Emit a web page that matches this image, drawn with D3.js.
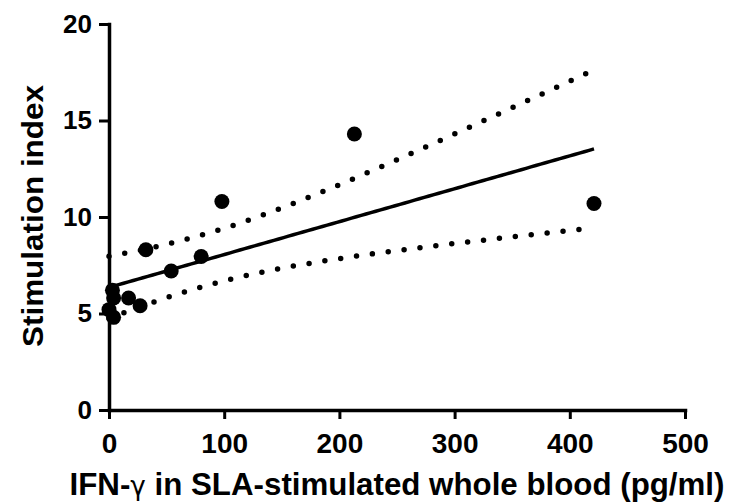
<!DOCTYPE html>
<html>
<head>
<meta charset="utf-8">
<script src="https://cdn.jsdelivr.net/npm/d3@7"></script>
<style>
  body { margin: 0; background: #fff; }
  text { font-family: "Liberation Sans", Arial, sans-serif; font-weight: bold; fill: #000; }
</style>
</head>
<body>
<div id="viz"></div>
<script>
// IFN-gamma (pg/ml) vs stimulation index
const ifn = [213, 98, 421, 32, 80, 54, 17, 27, 3, 4, 0, 4];
const si = [14.3, 10.8, 10.7, 8.3, 7.95, 7.2, 5.8, 5.4, 6.2, 5.8, 5.2, 4.8];
const xTicks = [0, 100, 200, 300, 400, 500];
const yTicks = [0, 5, 10, 15, 20];

const width = 729, height = 504;
const margin = {top: 24, right: 44, bottom: 94, left: 109};

const svg = d3.select("#viz")
  .append("svg")
  .attr("width", width)
  .attr("height", height);

const x = d3.scaleLinear().domain([0, 500]).range([margin.left, width - margin.right]);
const y = d3.scaleLinear().domain([0, 20]).range([height - margin.bottom, margin.top]);

// linear regression + 95% confidence band
const n = ifn.length;
const mx = d3.mean(ifn), my = d3.mean(si);
let sxx = 0, sxy = 0;
ifn.forEach((v, i) => { sxx += (v - mx) ** 2; sxy += (v - mx) * (si[i] - my); });
const slope = sxy / sxx, icpt = my - slope * mx;
const ssr = d3.sum(ifn, (v, i) => (si[i] - (icpt + slope * v)) ** 2);
const s = Math.sqrt(ssr / (n - 2));
const t = 2.228; // t(0.975, df=10)

const xs = d3.range(0, 101).map(i => d3.max(ifn) * i / 100);
const fit = xs.map(v => [v, icpt + slope * v]);
const band = sign => xs.map(v => {
  const se = s * Math.sqrt(1 / n + (v - mx) ** 2 / sxx);
  return [v, icpt + slope * v + sign * t * se];
});

const line = d3.line().x(d => x(d[0])).y(d => y(d[1]));

svg.append("path")
  .attr("d", line(fit))
  .attr("fill", "none")
  .attr("stroke", "#000")
  .attr("stroke-width", 3.5);

[1, -1].forEach(sg => {
  svg.append("path")
    .attr("d", line(band(sg)))
    .attr("fill", "none")
    .attr("stroke", "#000")
    .attr("stroke-width", 5.5)
    .attr("stroke-linecap", "round")
    .attr("stroke-dasharray", "0 16");
});

svg.append("g")
  .selectAll("circle")
  .data(ifn)
  .join("circle")
  .attr("cx", d => x(d))
  .attr("cy", (d, i) => y(si[i]))
  .attr("r", 7.5)
  .attr("fill", "#000");

// axes
const xAxis = svg.append("g")
  .attr("transform", `translate(0,${y(0)})`)
  .call(d3.axisBottom(x).tickValues(xTicks).tickSize(9).tickPadding(14).tickSizeOuter(0));
const yAxis = svg.append("g")
  .attr("transform", `translate(${x(0)},0)`)
  .call(d3.axisLeft(y).tickValues(yTicks).tickSize(10).tickPadding(7).tickSizeOuter(0));

[xAxis, yAxis].forEach(g => {
  g.attr("font-size", null).attr("font-family", null);
  g.select(".domain").attr("stroke-width", 3.5).attr("stroke-linecap", "square");
  g.selectAll(".tick line").attr("stroke-width", 3);
});
xAxis.selectAll(".tick text").style("font-size", "28px");
yAxis.selectAll(".tick text").style("font-size", "26px");

svg.append("text")
  .attr("x", 397)
  .attr("y", 495)
  .attr("text-anchor", "middle")
  .attr("textLength", 655)
  .attr("lengthAdjust", "spacingAndGlyphs")
  .style("font-size", "31px")
  .html('IFN-<tspan style="font-family:\'DejaVu Sans\',sans-serif;font-weight:normal;font-size:26px">γ</tspan> in SLA-stimulated whole blood (pg/ml)');

svg.append("text")
  .attr("transform", "translate(43,216) rotate(-90)")
  .attr("text-anchor", "middle")
  .attr("textLength", 262)
  .attr("lengthAdjust", "spacingAndGlyphs")
  .style("font-size", "29px")
  .text("Stimulation index");
</script>
</body>
</html>
